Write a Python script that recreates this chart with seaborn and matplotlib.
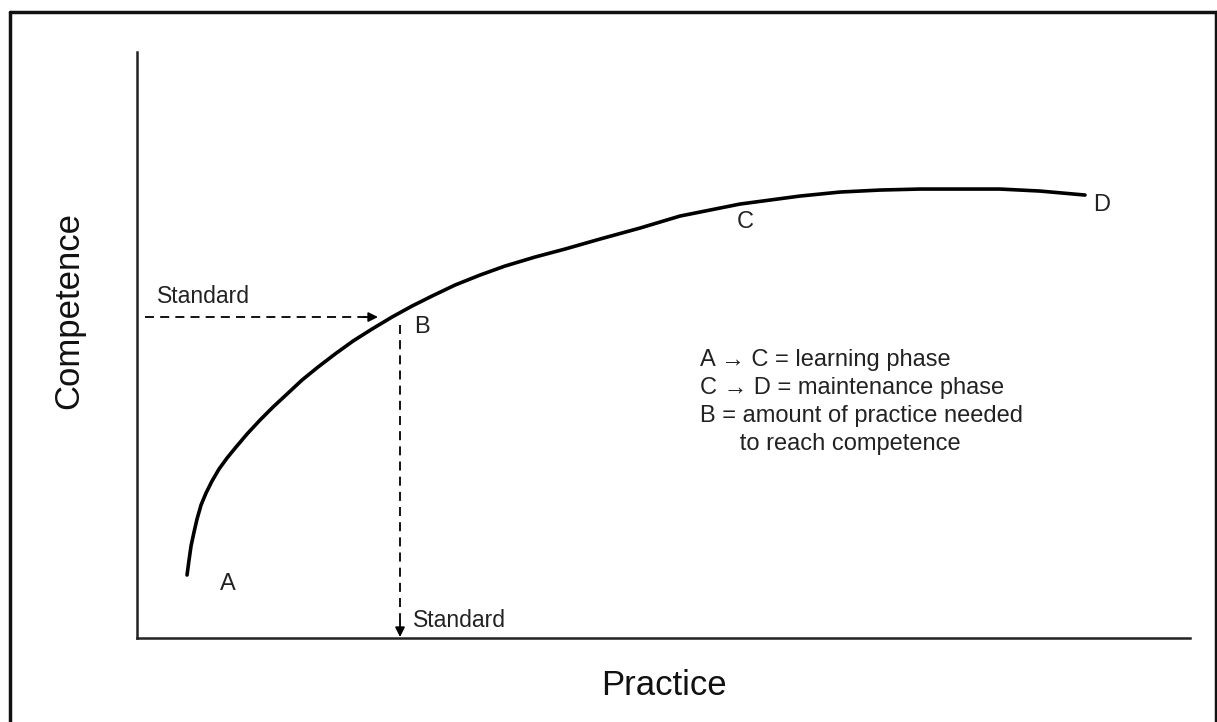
import numpy as np
import pandas as pd
import seaborn as sns
import matplotlib.pyplot as plt
from matplotlib.lines import Line2D

# learning curve (arbitrary units, no ticks in the original)
practice = [50, 52, 54, 57, 60, 64, 69, 75, 82, 90, 99, 110, 123, 136, 150, 165,
            181, 198, 216, 235, 255, 275, 295, 318, 343, 368, 398, 428, 463, 503,
            543, 573, 603, 633, 663, 703, 743, 783, 823, 863, 903, 948]
competence = [63, 78, 92, 106, 119, 133, 145, 157, 169, 180, 191, 204, 218, 231, 244, 258,
              271, 284, 297, 309, 321, 332, 342, 353, 363, 372, 381, 389, 399, 410,
              422, 428, 434, 438, 442, 446, 448, 449, 449, 449, 447, 443]

standard_competence = 321
standard_practice = 263

point_names = ["A", "B", "C", "D"]
point_x = [91, 285, 608, 965]
point_y = [54, 311, 416, 433]

notes = ["A \u2192 C = learning phase",
         "C \u2192 D = maintenance phase",
         "B = amount of practice needed",
         "      to reach competence"]

sns.set_theme(style="white")
plt.rcParams['font.family'] = ['Liberation Sans', 'DejaVu Sans']

fig = plt.figure(figsize=(12.17, 7.22), dpi=100)
ax = fig.add_axes([0.1126, 0.1163, 0.8652, 0.8116])

df = pd.DataFrame({"practice": practice, "competence": competence})
sns.lineplot(data=df, x="practice", y="competence", color="black", lw=2.6,
             sort=False, ax=ax)

# dashed guides to the standard
dash = (0, (5, 3.4))
ax.plot([8, standard_practice - 30], [standard_competence] * 2,
        color="black", lw=1.3, linestyle=dash)
ax.annotate("", xy=(standard_practice - 22, standard_competence),
            xytext=(standard_practice - 36, standard_competence),
            arrowprops=dict(arrowstyle="-|>", color="black", lw=1.3,
                            mutation_scale=14, shrinkA=0, shrinkB=0))
ax.plot([standard_practice] * 2, [standard_competence - 8, 12],
        color="black", lw=1.3, linestyle=dash)
ax.annotate("", xy=(standard_practice, 1),
            xytext=(standard_practice, 16),
            arrowprops=dict(arrowstyle="-|>", color="black", lw=1.3,
                            mutation_scale=14, shrinkA=0, shrinkB=0))

ax.text(20, 342, "Standard", fontsize=16.5, va="center", ha="left", color="#222222")
ax.text(standard_practice + 13, 18, "Standard", fontsize=16.5, va="center",
        ha="left", color="#222222")

for name, x, y in zip(point_names, point_x, point_y):
    ax.text(x, y, name, fontsize=17, ha="center", va="center", color="#222222")

for i, line in enumerate(notes):
    ax.text(563, 278 - i * 28, line, fontsize=17, ha="left", va="center",
            color="#222222")

ax.set_xlim(0, 1053)
ax.set_ylim(0, 586)
ax.set_xticks([])
ax.set_yticks([])
ax.set_xlabel("Practice", fontsize=25, labelpad=22, color="#111111")
ax.set_ylabel("Competence", fontsize=25, color="#111111")
ax.yaxis.set_label_coords(-0.049, 0.559)
sns.despine(ax=ax)
for side in ["left", "bottom"]:
    ax.spines[side].set_color("#222222")
    ax.spines[side].set_linewidth(1.8)

# outer frame of the figure (no bottom edge)
fx0, fx1, fy1 = 9.5 / 1217, 1215.5 / 1217, 1 - 11.5 / 722
for xs, ys in [([fx0, fx0], [0, fy1]), ([fx0, fx1], [fy1, fy1]), ([fx1, fx1], [fy1, 0])]:
    fig.add_artist(Line2D(xs, ys, transform=fig.transFigure, color="#111111", lw=2.5))

fig.savefig("out.png", dpi=100)
